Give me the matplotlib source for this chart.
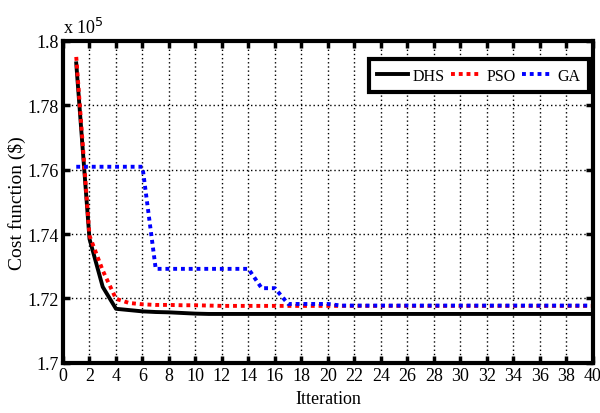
import matplotlib
matplotlib.use("Agg")
import matplotlib.pyplot as plt
from matplotlib.ticker import FuncFormatter, MultipleLocator

iterations = list(range(1, 41))

dhs = [179300, 173850, 172360, 171680, 171640, 171600, 171580, 171570, 171550, 171530] + [171520] * 30
pso = [179500, 173950, 172870, 171990, 171860, 171820, 171800, 171800, 171790, 171790, 171780] + [171770] * 29
ga = [176090] * 6 + [172920] * 8 + [172320] * 2 + [171830] * 4 + [171780] * 20

plt.rcParams['font.family'] = ['Liberation Serif', 'DejaVu Serif']

fig = plt.figure(figsize=(6, 4.14), dpi=100)
ax = fig.add_axes([0.105, 0.121, 0.883, 0.778])

ax.plot(iterations, dhs, color='black', linewidth=2.8, linestyle='-', label='DHS')
ax.plot(iterations, pso, color='red', linewidth=2.8, linestyle=(0, (1, 1)), label='PSO')
ax.plot(iterations, ga, color='blue', linewidth=2.8, linestyle=(0, (1, 1)), label='GA')

ax.set_xlim(0, 40)
ax.set_ylim(170000, 180000)
ax.xaxis.set_major_locator(MultipleLocator(2))
ax.yaxis.set_major_locator(MultipleLocator(2000))
ax.yaxis.set_major_formatter(FuncFormatter(lambda v, p: '%g' % round(v / 1e5, 2)))

ax.grid(True, color='black', linestyle=(0, (1, 2)), linewidth=1)
ax.tick_params(direction='in', length=5, width=2.5, top=True, right=True, labelsize=13, pad=3)
for s in ax.spines.values():
    s.set_linewidth(3)

ax.set_xlabel('Itteration', fontsize=13, labelpad=4)
ax.set_ylabel('Cost function ($)', fontsize=14)
ax.yaxis.set_label_coords(-0.07, 0.5)
ax.text(0.0, 1.012, r'x 10$^5$', transform=ax.transAxes, fontsize=13, ha='left', va='bottom')

leg = ax.legend(loc='upper right', ncol=3, fontsize=11.5, handlelength=1.9, handletextpad=0.3,
                columnspacing=0.4, borderpad=0.55, borderaxespad=0, fancybox=False, framealpha=1,
                edgecolor='black', bbox_to_anchor=(0.9925, 0.944))
leg.get_frame().set_linewidth(3)

fig.savefig('out.png', dpi=100)
